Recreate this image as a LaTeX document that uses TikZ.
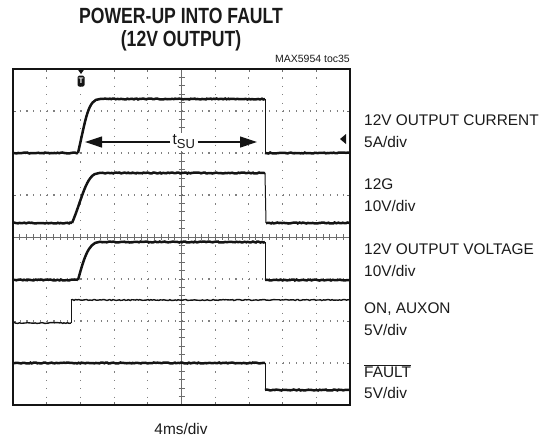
\documentclass[tikz,border=0pt]{standalone}
\usepackage{fontspec}
\setmainfont{Liberation Sans}
\newfontfamily\titlefont[FakeStretch=0.8]{Liberation Sans}
\usepackage{tikz}
\usetikzlibrary{arrows.meta,positioning,calc,decorations.pathmorphing}
\definecolor{scopeInk}{HTML}{141414}
\definecolor{scopeGrid}{HTML}{808080}
\definecolor{scopeText}{HTML}{1A1A1A}

\begin{document}
\begin{tikzpicture}[x=1pt, y=-1pt,
          trace/.style={draw=scopeInk, line width=2.5pt},
          noisy/.style={decorate, decoration={random steps, segment length=1.6pt, amplitude=0.5pt}},
          thinTrace/.style={draw=scopeInk, line width=1.4pt},
          edge/.style={draw=scopeInk, line width=1pt},
          gridH/.style={draw=scopeGrid, line width=1.1pt, dash pattern=on 1.1pt off 5.64pt},
          gridV/.style={draw=scopeGrid, line width=1.1pt, dash pattern=on 1.1pt off 7.3pt},
          axis/.style={draw=scopeGrid!85!black, line width=0.7pt},
          chLabel/.style={anchor=base west, inner sep=0pt, font=\fontsize{15.4}{18}\selectfont, text=scopeText},
          titleText/.style={font=\titlefont\fontsize{22}{26}\selectfont\bfseries, text=scopeText, inner sep=0pt},
          span/.style={-{Triangle[length=17pt, width=11pt]}, line width=1.2pt, draw=scopeInk}
        ]
          \useasboundingbox (0,0) rectangle (548,440);
          \node[titleText] (titleTop) at (181,16) {POWER-UP INTO FAULT};
          \node[titleText] (titleBottom) at (181,41) {(12V OUTPUT)};
          \node[anchor=base east, inner sep=0pt, font=\fontsize{10.5}{12}\selectfont, text=scopeText] (tocRef) at (350,62) {MAX5954 toc35};
          \foreach \j in {1,2,3,5,6,7}
            \draw[gridH] (13,69+\j*42) -- (350,69+\j*42);
          \foreach \i in {1,2,3,4,6,7,8,9}
            \draw[gridV] (13+\i*33.7,69) -- (13+\i*33.7,405);
          \draw[axis] (181.5,69) -- (181.5,405);
          \draw[axis, line width=1pt] (13,237) -- (350,237);
          \foreach \k in {1,...,39}
            \draw[axis] (178.5,69+\k*8.4) -- (184.5,69+\k*8.4);
          \foreach \k in {1,...,49}
            \draw[axis] (13+\k*6.74,234) -- (13+\k*6.74,240);
          \foreach \i in {1,...,9} {
            \draw[axis] (13+\i*33.7,69) -- (13+\i*33.7,72);
            \draw[axis] (13+\i*33.7,405) -- (13+\i*33.7,402);
          }
          \foreach \j in {1,...,7} {
            \draw[axis] (13,69+\j*42) -- (16,69+\j*42);
            \draw[axis] (350,69+\j*42) -- (347,69+\j*42);
          }
          \draw[draw=scopeInk, line width=1.8pt] (13,69) rectangle (350,405);
          \fill[scopeInk] (77.5,69) -- (84.5,69) -- (81,74) -- cycle;
          \node[fill=scopeInk, text=white, font=\fontsize{8}{8}\selectfont\bfseries, inner sep=0.8pt, rounded corners=1.5pt, minimum width=7pt, minimum height=11pt] (trigger) at (81,81) {T};
          \fill[scopeInk] (346,134) -- (346,144) -- (340,139) -- cycle;
          \draw[trace, noisy] (13,153) -- (78,153);
          \draw[trace] (78,153) .. controls (86,118) and (88,99) .. (100,99);
          \draw[trace, noisy] (100,99) -- (265,99);
          \draw[edge] (265,99) -- (265,153);
          \draw[trace, noisy] (265,153) -- (350,153);
          \draw[trace, noisy] (13,223) -- (72,223);
          \draw[trace] (72,223) .. controls (82,200) and (86,173) .. (99,173);
          \draw[trace, noisy] (99,173) -- (265,173);
          \draw[edge] (265,173) -- (266,223);
          \draw[trace, noisy] (266,223) -- (350,223);
          \draw[trace, noisy] (13,280) -- (78,280);
          \draw[trace] (78,280) .. controls (83,262) and (88,242) .. (99,242);
          \draw[trace, noisy] (99,242) -- (265,242);
          \draw[edge] (265,242) -- (265,280);
          \draw[trace, noisy] (265,280) -- (350,280);
          \draw[thinTrace, noisy] (13,323) -- (71,323);
          \draw[edge] (71,323) -- (71,300);
          \draw[thinTrace, noisy] (71,300) -- (350,300);
          \draw[trace, noisy] (13,363) -- (265,363);
          \draw[edge] (265,363) -- (265,390);
          \draw[trace, noisy] (265,390) -- (350,390);
          \node[font=\fontsize{15.4}{18}\selectfont, inner sep=2pt, fill=white, text=scopeText] (tsu) at (184,142) {t\textsubscript{\fontsize{13}{14}\selectfont SU}};
          \coordinate (tsuLeft) at (85,142);
          \coordinate (tsuRight) at (257,142);
          \draw[span] (tsu.west) -- (tsuLeft);
          \draw[span] (tsu.east) -- (tsuRight);
          \node[chLabel] (lblCurrent) at (364,125.5) {12V OUTPUT CURRENT};
          \node[chLabel] (divCurrent) at (364,147.5) {5A/div};
          \node[chLabel] (lblGate) at (364,189.5) {12G};
          \node[chLabel] (divGate) at (364,211.5) {10V/div};
          \node[chLabel] (lblVoltage) at (364,254.5) {12V OUTPUT VOLTAGE};
          \node[chLabel] (divVoltage) at (364,276.5) {10V/div};
          \node[chLabel] (lblOn) at (364,313.5) {ON, AUXON};
          \node[chLabel] (divOn) at (364,335.5) {5V/div};
          \node[chLabel] (lblFault) at (364,377.5) {$\overline{\mbox{FAULT}}$};
          \node[chLabel] (divFault) at (364,398.5) {5V/div};
          \node[font=\fontsize{15.4}{18}\selectfont, text=scopeText, inner sep=0pt] (timebase) at (181,429) {4ms/div};
        \end{tikzpicture}
\end{document}
